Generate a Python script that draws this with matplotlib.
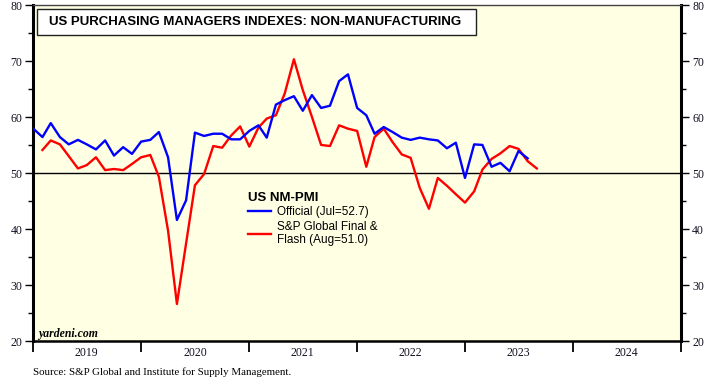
import matplotlib
matplotlib.use("Agg")
import matplotlib.pyplot as plt
from matplotlib.patches import Rectangle
from matplotlib.ticker import MultipleLocator
import pandas as pd

# ISM official non-manufacturing PMI, Dec 2018 .. Jul 2023 (plotted at month end)
official_start = "2018-12"
official = [58.0, 56.5, 59.0, 56.5, 55.2, 56.0, 55.2, 54.3, 55.9, 53.2, 54.7, 53.5,
            55.7, 56.0, 57.4, 52.9, 41.7, 45.2, 57.3, 56.7, 57.1, 57.1, 56.1, 56.1,
            57.6, 58.6, 56.4, 62.3, 63.1, 63.8, 61.2, 64.0, 61.7, 62.1, 66.5, 67.7,
            61.7, 60.4, 57.1, 58.3, 57.4, 56.4, 56.0, 56.4, 56.1, 55.9, 54.5, 55.5,
            49.2, 55.2, 55.1, 51.2, 51.9, 50.4, 54.0, 52.7]

# S&P Global services PMI, Jan 2019 .. Aug 2023
spglobal_start = "2019-01"
spglobal = [54.2, 55.9, 55.2, 53.1, 50.9, 51.5, 52.9, 50.6, 50.8, 50.6, 51.7, 52.9,
            53.3, 49.4, 39.8, 26.7, 37.5, 47.9, 49.9, 54.9, 54.6, 56.8, 58.4, 54.8,
            58.2, 59.8, 60.4, 64.3, 70.4, 64.9, 60.1, 55.1, 54.9, 58.6, 58.0, 57.6,
            51.2, 56.5, 58.0, 55.6, 53.4, 52.8, 47.4, 43.7, 49.2, 47.8, 46.3, 44.8,
            46.8, 50.7, 52.6, 53.6, 54.9, 54.4, 52.2, 50.9]

years = [2019, 2020, 2021, 2022, 2023, 2024]
title = "US PURCHASING MANAGERS INDEXES: NON-MANUFACTURING"
legend_title = "US NM-PMI"
label_official = "Official (Jul=52.7)"
label_sp = "S&P Global Final &\nFlash (Aug=51.0)"

off_dates = pd.date_range(official_start, periods=len(official), freq="MS") + pd.offsets.MonthBegin(1)
sp_dates = pd.date_range(spglobal_start, periods=len(spglobal), freq="MS") + pd.offsets.MonthBegin(1)

fig = plt.figure(figsize=(7.15, 3.86), dpi=100)
ax = fig.add_axes([0.0466, 0.1153, 0.9058, 0.8705])
bg = "#FFFFE4"
ax.set_facecolor(bg)

ax.axhline(50, color="black", lw=1.0, zorder=1)
l1, = ax.plot(off_dates, official, color="#0000FF", lw=1.7, label=label_official, zorder=3)
l2, = ax.plot(sp_dates, spglobal, color="#FF0000", lw=1.7, label=label_sp, zorder=2)

ax.set_ylim(20, 80)
ax.yaxis.set_major_locator(MultipleLocator(10))
ax.yaxis.set_minor_locator(MultipleLocator(5))
x0 = pd.Timestamp(f"{years[0]}-01-01")
x1 = pd.Timestamp(f"{years[-1] + 1}-01-01")
ax.set_xlim(x0, x1)
ax.set_xticks([pd.Timestamp(f"{y}-01-01") for y in years] + [x1])
ax.set_xticklabels([])
ax.set_xticks([pd.Timestamp(f"{y}-07-01") for y in years], minor=True)
ax.set_xticklabels([str(y) for y in years], minor=True)
ax.tick_params(axis="x", which="minor", length=0, pad=4, labelsize=8.5)
ax.tick_params(axis="x", which="major", length=8, width=1.3, direction="out")
ax.tick_params(axis="y", which="major", length=6, width=1.0, direction="out",
               left=True, right=True, labelleft=True, labelright=True, labelsize=8.5, pad=2)
ax.tick_params(axis="y", which="minor", length=3.5, width=1.0, direction="out",
               left=True, right=True)
for lab in ax.get_xticklabels(minor=True) + ax.get_yticklabels():
    lab.set_fontfamily("Liberation Serif")
    lab.set_color("#111122")

ax.spines["left"].set_linewidth(2.2)
ax.spines["right"].set_linewidth(2.2)
ax.spines["bottom"].set_linewidth(1.8)
ax.spines["top"].set_linewidth(1.0)
ax.spines["top"].set_color("#444444")

# Title box
ax.add_patch(Rectangle((0.0062, 0.912), 0.677, 0.0776, transform=ax.transAxes,
                       facecolor="white", edgecolor="#222222", lw=1.0, zorder=5))
ax.text(0.0242, 0.951, title, transform=ax.transAxes, fontsize=9.5,
        fontweight="bold", family="Liberation Sans", va="center", ha="left", zorder=6)

leg = ax.legend(handles=[l1, l2], title=legend_title, loc="upper left",
                bbox_to_anchor=(0.318, 0.47), frameon=False,
                prop={"family": "Liberation Sans", "size": 8.5},
                handlelength=2.0, handletextpad=0.5, labelspacing=0.2,
                borderpad=0.2, alignment="left")
leg.get_title().set_fontweight("bold")
leg.get_title().set_fontsize(9.5)
leg.get_title().set_fontfamily("Liberation Sans")

ax.text(0.007, 0.022, "yardeni.com", transform=ax.transAxes, fontsize=8.5,
        fontweight="bold", style="italic", family="Liberation Serif",
        va="center", ha="left")

fig.text(0.046, 0.036, "Source: S&P Global and Institute for Supply Management.",
         fontsize=7.8, family="Liberation Serif", va="center", ha="left")

fig.savefig("out.png", dpi=100)
